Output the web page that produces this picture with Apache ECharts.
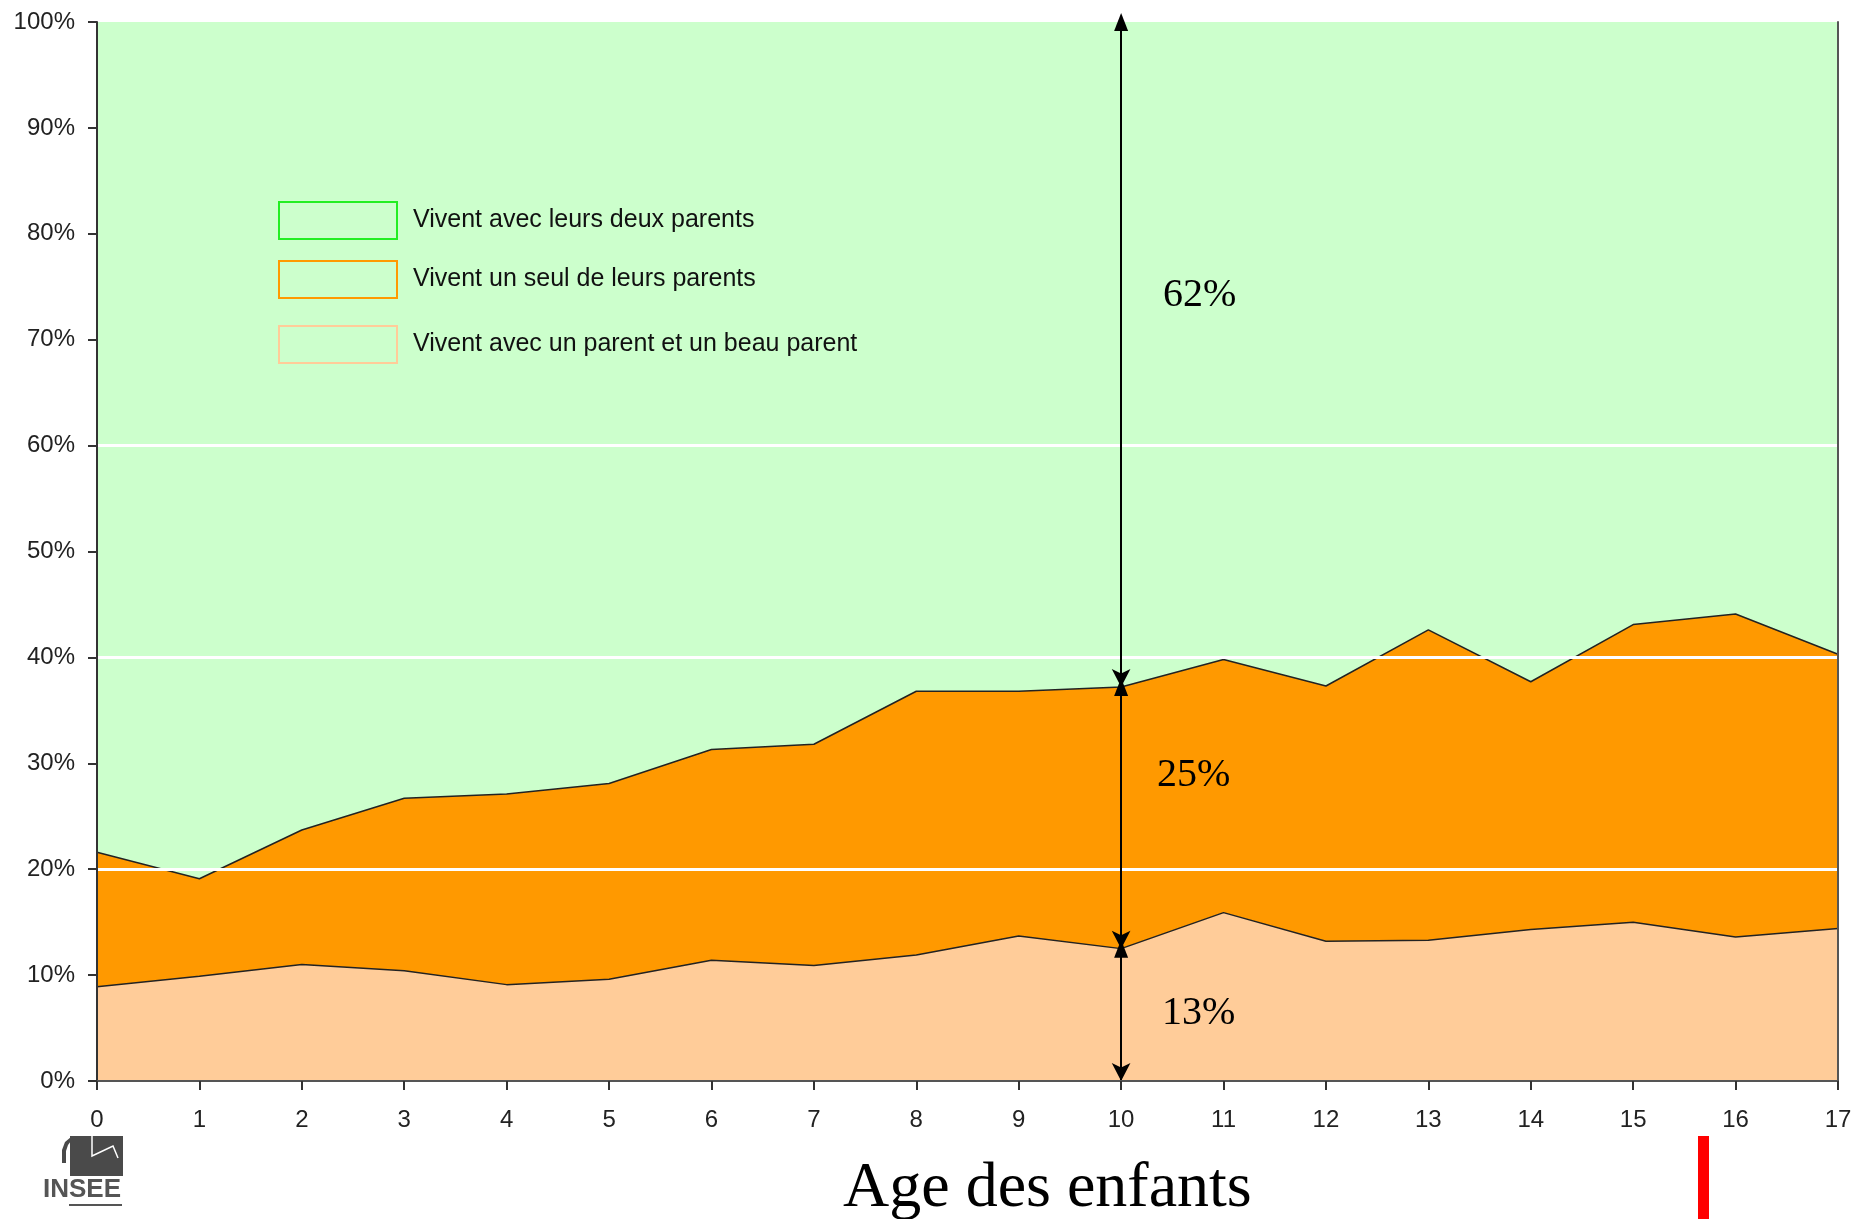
<!DOCTYPE html>
<html>
<head>
<meta charset="utf-8">
<title>Age des enfants</title>
<script src="https://cdn.jsdelivr.net/npm/echarts@6/dist/echarts.min.js"></script>
<style>
  html, body { margin: 0; padding: 0; background: #fff; }
  #chartmain { width: 1863px; height: 1219px; }
</style>
</head>
<body>
<div id="chartmain"></div>
<script>
// ages des enfants (axe x)
var ages = ['0', '1', '2', '3', '4', '5', '6', '7', '8', '9', '10', '11', '12', '13', '14', '15', '16', '17'];

// parts en % (empilées de bas en haut)
var avecBeauParent = [8.9, 9.9, 11.0, 10.4, 9.1, 9.6, 11.4, 10.9, 11.9, 13.7, 12.5, 15.9, 13.2, 13.3, 14.3, 15.0, 13.6, 14.4];
var unSeulParent = [12.7, 9.2, 12.7, 16.3, 18.0, 18.5, 19.9, 20.9, 24.9, 23.1, 24.7, 23.9, 24.1, 29.3, 23.4, 28.1, 30.5, 25.9];
var deuxParents = [78.4, 80.9, 76.3, 73.3, 72.9, 71.9, 68.7, 68.2, 63.2, 63.2, 62.8, 60.2, 62.7, 57.4, 62.3, 56.9, 55.9, 59.7];

var nomsSeries = ['Vivent avec leurs deux parents', 'Vivent un seul de leurs parents', 'Vivent avec un parent et un beau parent'];
var lignesBlanches = [20, 40, 60];
var ageRepere = 10;
var textesRepere = ['62%', '25%', '13%'];

var myChart = echarts.init(document.getElementById('chartmain'));

// fleches verticales a l'age 10
var bas = avecBeauParent[ageRepere];
var milieu = bas + unSeulParent[ageRepere];
var fleches = [[0, bas], [bas, milieu], [milieu, 100]].map(function (p) {
  return [{ coord: [ageRepere, p[0]] }, { coord: [ageRepere, p[1]] }];
});
var blanches = lignesBlanches.map(function (v) { return { yAxis: v }; });

var couleursLegende = [
  { color: '#ccffcc', borderColor: '#22ee22', borderWidth: 2 },
  { color: '#ccffcc', borderColor: '#ff9900', borderWidth: 2 },
  { color: '#ccffcc', borderColor: '#ffcc99', borderWidth: 2 }
];
var legendTops = [196, 255, 320];

var option = {
  animation: false,
  backgroundColor: '#fff',
  grid: { left: 97, right: 25, top: 22, bottom: 138 },
  legend: nomsSeries.map(function (nom, i) {
    return {
      left: 273, top: legendTops[i],
      icon: 'rect', itemWidth: 118, itemHeight: 37,
      selectedMode: false,
      data: [{ name: nom, itemStyle: couleursLegende[i] }],
      textStyle: { fontFamily: 'Liberation Sans', fontSize: 25, color: '#111', padding: [4, 0, 0, 11] }
    };
  }),
  xAxis: [{
    type: 'category', data: ages, boundaryGap: false, z: 10,
    axisLine: { lineStyle: { color: '#333', width: 2 } },
    axisTick: { length: 9, alignWithLabel: true, lineStyle: { color: '#333', width: 2 } },
    axisLabel: { interval: 0, margin: 27, fontFamily: 'Liberation Sans', fontSize: 24, color: '#222' },
    splitLine: { show: false }
  }, {
    type: 'category', data: ages, boundaryGap: false, position: 'top', z: 10,
    axisLine: { lineStyle: { color: '#555', width: 2 } },
    axisTick: { show: false }, axisLabel: { show: false }, splitLine: { show: false }
  }],
  yAxis: [{
    type: 'value', min: 0, max: 100, interval: 10, z: 10,
    axisLine: { show: true, lineStyle: { color: '#333', width: 2 } },
    axisTick: { show: true, length: 9, lineStyle: { color: '#333', width: 2 } },
    axisLabel: { formatter: '{value}%', margin: 22, fontFamily: 'Liberation Sans', fontSize: 24, color: '#222' },
    splitLine: { show: false }
  }, {
    type: 'value', min: 0, max: 100, interval: 10, position: 'right', z: 10,
    axisLine: { show: true, lineStyle: { color: '#555', width: 2 } },
    axisTick: { show: false }, axisLabel: { show: false }, splitLine: { show: false }
  }],
  series: [{
    name: nomsSeries[2], type: 'line', stack: 'total', data: avecBeauParent,
    showSymbol: false, silent: true,
    itemStyle: { color: '#ffcc99' },
    lineStyle: { color: '#222', width: 1.5 },
    areaStyle: { color: '#ffcc99', opacity: 1 },
    markLine: {
      silent: true, symbol: 'none', label: { show: false },
      lineStyle: { color: '#fff', width: 3, type: 'solid' },
      data: blanches
    }
  }, {
    name: nomsSeries[1], type: 'line', stack: 'total', data: unSeulParent,
    showSymbol: false, silent: true,
    itemStyle: { color: '#ff9900' },
    lineStyle: { color: '#222', width: 1.5 },
    areaStyle: { color: '#ff9900', opacity: 1 }
  }, {
    name: nomsSeries[0], type: 'line', stack: 'total', data: deuxParents,
    showSymbol: false, silent: true,
    itemStyle: { color: '#ccffcc' },
    lineStyle: { width: 0 },
    areaStyle: { color: '#ccffcc', opacity: 1 },
    markLine: {
      silent: true, symbol: ['arrow', 'triangle'], symbolSize: [14, 18],
      label: { show: false },
      lineStyle: { color: '#000', width: 2, type: 'solid' },
      data: fleches
    }
  }],
  graphic: [
    // pourcentages a cote des fleches
    { type: 'text', z: 100, left: 1163, top: 275, style: { text: textesRepere[0], font: '40px "Liberation Serif"', fill: '#000' } },
    { type: 'text', z: 100, left: 1157, top: 755, style: { text: textesRepere[1], font: '40px "Liberation Serif"', fill: '#000' } },
    { type: 'text', z: 100, left: 1162, top: 993, style: { text: textesRepere[2], font: '40px "Liberation Serif"', fill: '#000' } },
    // titre de l'axe
    { type: 'text', left: 843, top: 1157, style: { text: 'Age des enfants', font: '64px "Liberation Serif"', fill: '#000' } },
    // barre rouge
    { type: 'rect', shape: { x: 1698, y: 1136, width: 11, height: 83 }, style: { fill: '#ff0000' } },
    // logo INSEE
    { type: 'polygon', shape: { points: [[71, 1137], [65, 1142], [62, 1150], [62, 1163], [66, 1163], [66, 1151], [68, 1145], [71, 1141]] }, style: { fill: '#4a4a4a' } },
    { type: 'rect', shape: { x: 70, y: 1136, width: 53, height: 40 }, style: { fill: '#4a4a4a' } },
    { type: 'polyline', shape: { points: [[92, 1136], [92, 1156], [113, 1146], [118, 1158]] }, style: { stroke: '#fff', lineWidth: 1.5, fill: null } },
    { type: 'text', left: 43, top: 1177, style: { text: 'INSEE', font: 'bold 26px "Liberation Sans"', fill: '#555' } },
    { type: 'line', shape: { x1: 69, y1: 1205, x2: 122, y2: 1205 }, style: { stroke: '#555', lineWidth: 2 } }
  ]
};

myChart.setOption(option);
</script>
</body>
</html>
